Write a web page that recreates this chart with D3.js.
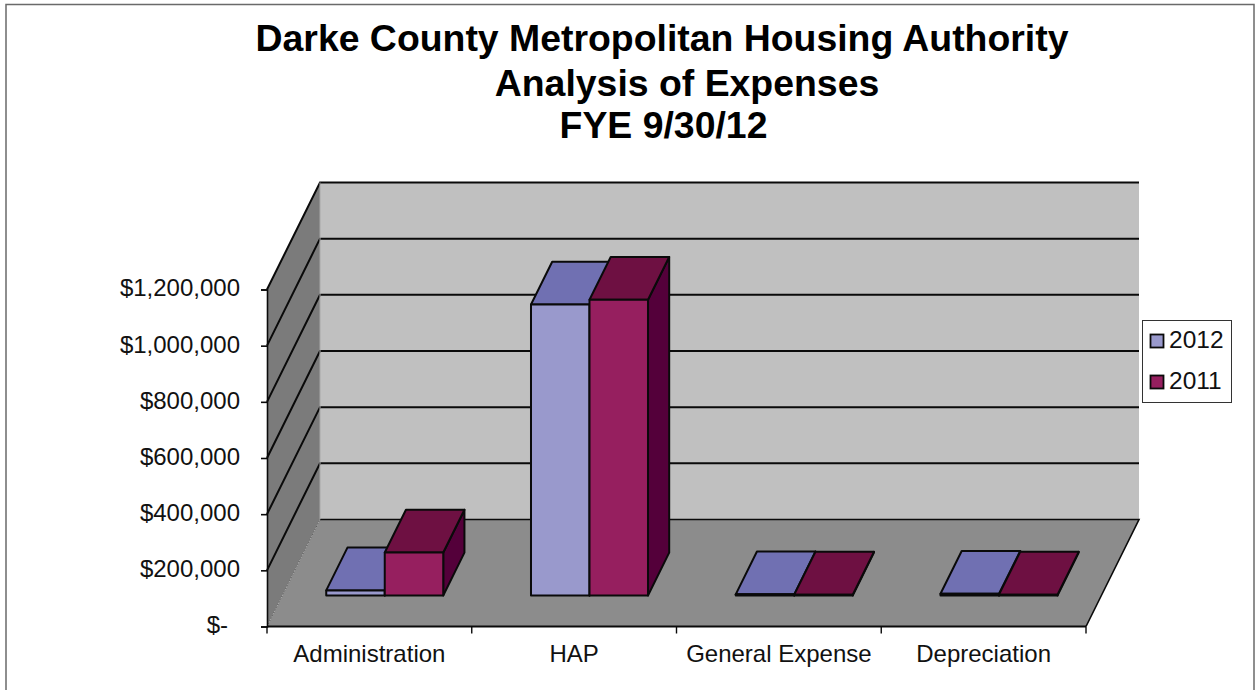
<!DOCTYPE html>
<html>
<head>
<meta charset="utf-8">
<script src="https://cdn.jsdelivr.net/npm/d3@7"></script>
<style>
html, body { margin: 0; padding: 0; background: #fff; }
svg { display: block; font-family: "Liberation Sans", Arial, sans-serif; }
</style>
</head>
<body>
<svg id="chart" width="1255" height="690"></svg>
<script>
const categories = ["Administration", "HAP", "General Expense", "Depreciation"];
const seriesNames = ["2012", "2011"];
const values2012 = [18000, 1036000, 4000, 6000];
const values2011 = [153000, 1053000, 3000, 3000];
const valueTicks = [0, 200000, 400000, 600000, 800000, 1000000, 1200000];
const tickLabels = ["$-", "$200,000", "$400,000", "$600,000", "$800,000", "$1,000,000", "$1,200,000"];
const titleLines = ["Darke County Metropolitan Housing Authority", "Analysis of Expenses", "FYE 9/30/12"];

const series = [
  { name: seriesNames[0], values: values2012, front: "#9999cc", top: "#7070b2", side: "#4d4d80" },
  { name: seriesNames[1], values: values2011, front: "#961f5f", top: "#6e1042", side: "#54003a" }
];

const svg = d3.select("#chart");
const ink = "#0a0a0a";

// Oblique projection: depth 0 is the front of the floor, depth 1 the back wall.
const plot = { left: 267, right: 1086, base: 626.5, top: 289.5, dx: 53, dy: -107 };
const x = d3.scaleBand().domain(categories).range([plot.left, plot.right]);
const barBand = d3.scaleBand().domain(seriesNames)
  .range([0, x.bandwidth()]).paddingInner(0).paddingOuter(0.75);
const y = d3.scaleLinear().domain([0, 1200000]).range([plot.base, plot.top]);
const depthStart = 0.29, depthEnd = 0.69;

const project = (px, value, depth) => [px + plot.dx * depth, y(value) + plot.dy * depth];
const line = d3.line();
const poly = (g, pts, fill, stroke, width) => g.append("path")
  .attr("d", line(pts) + "Z")
  .attr("fill", fill)
  .attr("stroke", stroke || "none")
  .attr("stroke-width", width || 0)
  .attr("stroke-linejoin", "round");

// Outer frame of the chart area; its lower edge falls below the page
svg.append("rect").attr("x", 6).attr("y", 4.5).attr("width", 1248).attr("height", 700)
  .attr("fill", "#fff").attr("stroke", "#6a6a6a").attr("stroke-width", 1.5);

// Title
const titleAnchor = [662, 687, 663.5];
const titleBase = [51, 96, 138];
svg.append("g").selectAll("text").data(titleLines).join("text")
  .attr("x", (d, i) => titleAnchor[i])
  .attr("y", (d, i) => titleBase[i])
  .attr("text-anchor", "middle")
  .attr("font-size", 37.4)
  .attr("font-weight", "bold")
  .attr("fill", "#000")
  .text(d => d);

// Walls and floor
const scene = svg.append("g");
const [xMin, xMax] = [plot.left, plot.right];
const yMaxValue = valueTicks[valueTicks.length - 1];
poly(scene, [project(xMin, 0, 1), project(xMax, 0, 1), project(xMax, yMaxValue, 1), project(xMin, yMaxValue, 1)], "#c0c0c0");
poly(scene, [project(xMin, 0, 0), project(xMin, 0, 1), project(xMin, yMaxValue, 1), project(xMin, yMaxValue, 0)], "#7b7b7b");
poly(scene, [project(xMin, 0, 0), project(xMax, 0, 0), project(xMax, 0, 1), project(xMin, 0, 1)], "#8c8c8c");

// Gridlines run along the side wall and across the back wall
scene.append("g").selectAll("path").data(valueTicks.slice(1)).join("path")
  .attr("d", v => line([project(xMin, v, 0), project(xMin, v, 1), project(xMax, v, 1)]))
  .attr("fill", "none").attr("stroke", ink).attr("stroke-width", 2);
scene.append("path")
  .attr("d", line([project(xMin, 0, 1), project(xMax, 0, 1), project(xMax, 0, 0)]))
  .attr("fill", "none").attr("stroke", ink).attr("stroke-width", 1.6);
scene.append("path")
  .attr("d", line([project(xMin, 0, 0), project(xMin, 0, 1)]))
  .attr("fill", "none").attr("stroke", "#555").attr("stroke-width", 1).attr("stroke-dasharray", "1 2");
scene.append("path")
  .attr("d", line([project(xMin, 0, 1), project(xMin, yMaxValue, 1)]))
  .attr("fill", "none").attr("stroke", "#a8a8a8").attr("stroke-width", 1);

// Value axis; the zero label sits further out, as accounting formats pad it
const yAxis = d3.axisLeft(y).tickValues(valueTicks)
  .tickFormat((d, i) => tickLabels[i]).tickSize(6).tickPadding(21);
const yAxisG = svg.append("g").attr("transform", `translate(${plot.left},0)`).call(yAxis);
yAxisG.selectAll("path, line").attr("stroke", ink).attr("stroke-width", 1.6);
yAxisG.selectAll("text").attr("font-size", 24).attr("fill", "#111")
  .attr("font-family", "'Liberation Sans', Arial, sans-serif").attr("dy", "0.27em")
  .attr("dx", d => d === 0 ? -12 : 0);

// Category axis with ticks between the groups
const xEdges = d3.range(categories.length + 1).map(i => plot.left + i * x.bandwidth());
const xAxisG = svg.append("g");
xAxisG.append("path").attr("d", line([[plot.left, plot.base], [plot.right, plot.base]]))
  .attr("stroke", ink).attr("stroke-width", 2);
xAxisG.selectAll("line").data(xEdges).join("line")
  .attr("x1", d => d).attr("x2", d => d)
  .attr("y1", plot.base).attr("y2", plot.base + 7)
  .attr("stroke", ink).attr("stroke-width", 1.4);
xAxisG.selectAll("text").data(categories).join("text")
  .attr("x", d => x(d) + x.bandwidth() / 2)
  .attr("y", 662)
  .attr("text-anchor", "middle")
  .attr("font-size", 24)
  .attr("fill", "#111")
  .text(d => d);

// Bars, left to right so each neighbour's face overlaps the previous one
const bars = svg.append("g");
categories.forEach((cat, ci) => {
  series.forEach(s => {
    const v = s.values[ci];
    const x0 = x(cat) + barBand(s.name);
    const x1 = x0 + barBand.bandwidth();
    const g = bars.append("g");
    const stroke = ink, w = 2;
    poly(g, [project(x1, 0, depthStart), project(x1, 0, depthEnd), project(x1, v, depthEnd), project(x1, v, depthStart)], s.side, stroke, w);
    poly(g, [project(x0, v, depthStart), project(x1, v, depthStart), project(x1, v, depthEnd), project(x0, v, depthEnd)], s.top, stroke, w);
    poly(g, [project(x0, 0, depthStart), project(x1, 0, depthStart), project(x1, v, depthStart), project(x0, v, depthStart)], s.front, stroke, w);
  });
});

// Legend
const legend = svg.append("g");
legend.append("rect").attr("x", 1142.5).attr("y", 320.5).attr("width", 89).attr("height", 82)
  .attr("fill", "#fff").attr("stroke", "#333").attr("stroke-width", 1);
const legendRows = legend.selectAll("g").data(series).join("g")
  .attr("transform", (d, i) => `translate(0,${i * 41})`);
legendRows.append("rect").attr("x", 1150.5).attr("y", 334.5).attr("width", 13).attr("height", 13)
  .attr("fill", d => d.front).attr("stroke", ink).attr("stroke-width", 1.8);
legendRows.append("text").attr("x", 1169).attr("y", 348)
  .attr("font-size", 24.5).attr("fill", "#111").text(d => d.name);
</script>
</body>
</html>
